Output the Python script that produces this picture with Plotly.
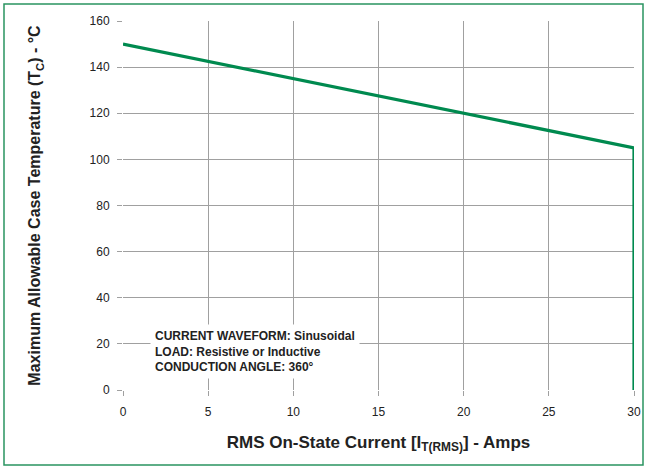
import plotly.graph_objects as go

current_amps = [0, 30, 30]
case_temp_c = [150, 105, 0]
x_ticks = [0, 5, 10, 15, 20, 25, 30]
y_ticks = [0, 20, 40, 60, 80, 100, 120, 140, 160]

W, H = 646, 468
L, R, T, B = 123, 12, 21, 78
pw, ph = W - L - R, H - T - B

def px_x(p):
    return (p - L) / pw

def px_y(p):
    return (H - B - p) / ph

fig = go.Figure()
fig.add_trace(go.Scatter(x=current_amps, y=case_temp_c, mode="lines",
                         line=dict(color="#008a4f", width=3.2), showlegend=False,
                         cliponaxis=False))

grid = "#a0a0a0"
fig.update_xaxes(range=[0, 30], tickvals=x_ticks, showgrid=True, gridcolor=grid, gridwidth=1,
                 ticks="outside", ticklen=5, tickcolor=grid, showline=False, zeroline=False,
                 ticklabelstandoff=6, automargin=False,
                 tickfont=dict(family="Liberation Sans", size=12, color="#222"),
                 title=dict(text="<b>RMS On-State Current [I<sub>T(RMS)</sub>] - Amps</b>",
                            font=dict(family="Liberation Sans", size=17, color="#222"), standoff=17))
fig.update_yaxes(range=[0, 160], tickvals=y_ticks, showgrid=True, gridcolor=grid, gridwidth=1,
                 ticks="outside", ticklen=5, tickcolor=grid, showline=False, zeroline=False,
                 ticklabelstandoff=5, automargin=False,
                 tickfont=dict(family="Liberation Sans", size=12, color="#222"),
                 title=dict(text="<b>Maximum Allowable Case Temperature (T<sub>C</sub>) - °C</b>",
                            font=dict(family="Liberation Sans", size=16, color="#222"), standoff=44))

fig.add_annotation(xref="paper", yref="paper", x=px_x(150), y=px_y(351), xanchor="left", yanchor="middle",
                   text="<b>CURRENT WAVEFORM: Sinusoidal<br>LOAD: Resistive or Inductive<br>CONDUCTION ANGLE: 360°</b>",
                   showarrow=False, align="left", bgcolor="white", borderpad=4,
                   font=dict(family="Liberation Sans", size=12, color="#222"))

fig.add_shape(type="rect", xref="paper", yref="paper",
              x0=px_x(4), x1=px_x(643), y0=px_y(465), y1=px_y(4),
              line=dict(color="#2a9460", width=1.5), layer="below")

fig.update_layout(width=W, height=H, margin=dict(l=L, r=R, t=T, b=B, autoexpand=False),
                  plot_bgcolor="white", paper_bgcolor="white")

fig.write_html("out.html", config={"displayModeBar": False},
               post_script="document.body.style.margin='0';document.body.style.overflow='hidden';")
